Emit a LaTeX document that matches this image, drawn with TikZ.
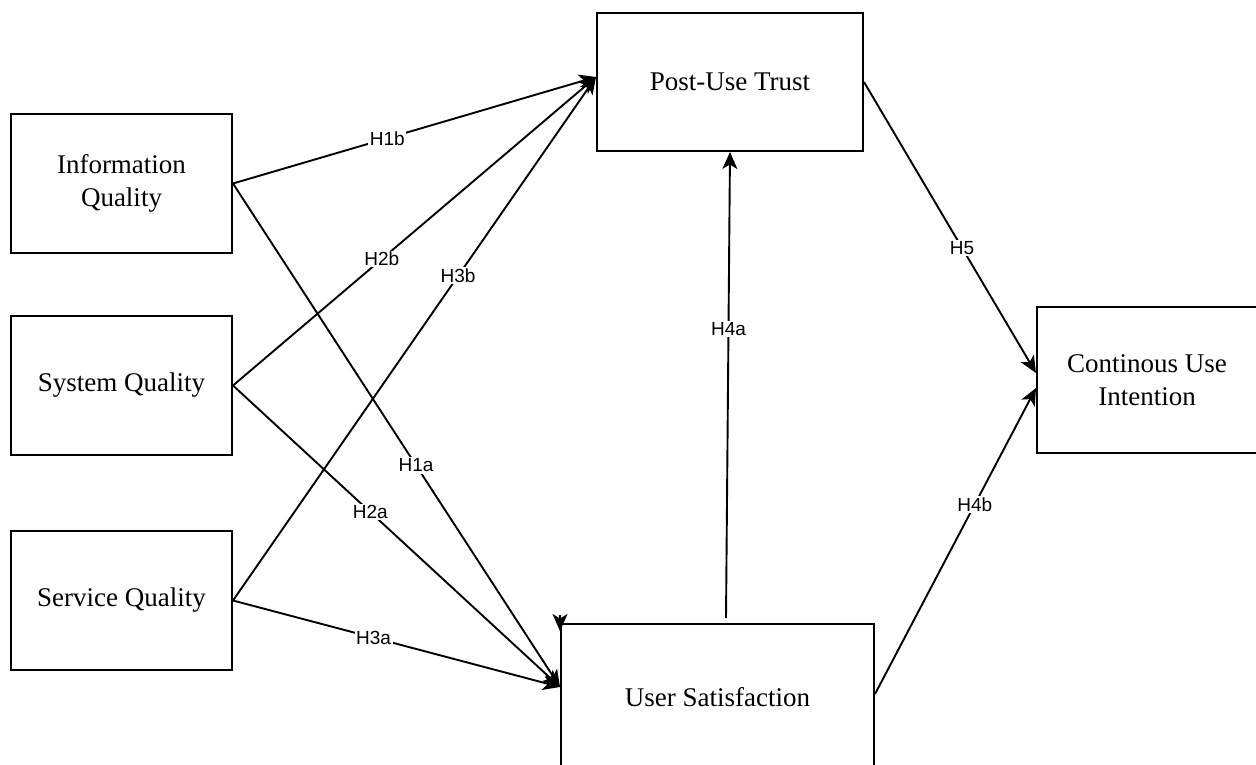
\documentclass[tikz,border=0pt]{standalone}
\usepackage{fontspec}
\setmainfont{Liberation Serif}
\newfontfamily\lblfont{Liberation Sans}
\usetikzlibrary{arrows.meta,calc}
\tikzset{
  box/.style={draw=black, line width=2pt, rectangle, align=center,
    font=\fontsize{27}{32.5}\selectfont, inner sep=0pt},
  arr/.style={draw=black, line width=1.9pt,
    -{Stealth[length=17pt,width=15pt,inset=4.5pt]}},
  lbl/.style={fill=white, inner sep=1.5pt, text=black,
    font=\lblfont\fontsize{19}{22}\selectfont}
}
\begin{document}
\begin{tikzpicture}[x=1pt,y=-1pt]
\useasboundingbox (0,0) rectangle (1256,764);
\node[box, minimum width=221pt, minimum height=139pt] (IQ) at (121.5,183.5) {Information\\Quality};
\node[box, minimum width=221pt, minimum height=139pt] (SQ) at (121.5,385.5) {System Quality};
\node[box, minimum width=221pt, minimum height=139pt] (SvQ) at (121.5,600.5) {Service Quality};
\node[box, minimum width=266pt, minimum height=138pt] (PUT) at (730,82) {Post-Use Trust};
\node[box, minimum width=220pt, minimum height=146pt] (CUI) at (1147,380) {Continous Use\\Intention};
\node[box, minimum width=313pt, minimum height=146pt] (US) at (717.5,697) {User Satisfaction};

\coordinate (putin) at ([yshift=5pt]PUT.west);
\coordinate (usin) at ([yshift=10pt]US.west);
\coordinate (cuia) at ([yshift=7pt]CUI.west);
\coordinate (cuib) at ([yshift=-8pt]CUI.west);
\coordinate (usout) at ([yshift=3pt]US.east);
\coordinate (ustop) at ([xshift=8.5pt,yshift=5pt]US.north);
\coordinate (stray1) at ([yshift=8pt]US.north west);
\coordinate (stray2) at ([yshift=-8pt]US.north west);

\draw[arr] (IQ.east) -- node[lbl, pos=0.425] {H1b} (putin);
\draw[arr] (SQ.east) -- node[lbl, pos=0.41] {H2b} (putin);
\draw[arr] (SvQ.east) -- node[lbl, pos=0.62] {H3b} (putin);
\draw[arr] (IQ.east) -- node[lbl, pos=0.56] {H1a} (usin);
\draw[arr] (SQ.east) -- node[lbl, pos=0.42] {H2a} (usin);
\draw[arr] (SvQ.east) -- node[lbl, pos=0.43] {H3a} (usin);
\draw[arr] (ustop) -- node[lbl, pos=0.62] {H4a} (PUT.south);
\draw[arr] (PUT.east) -- node[lbl, pos=0.57] {H5} (cuia);
\draw[arr] (usout) -- node[lbl, pos=0.62] {H4b} (cuib);
\draw[arr] (stray1) -- (stray2);
\end{tikzpicture}
\end{document}
